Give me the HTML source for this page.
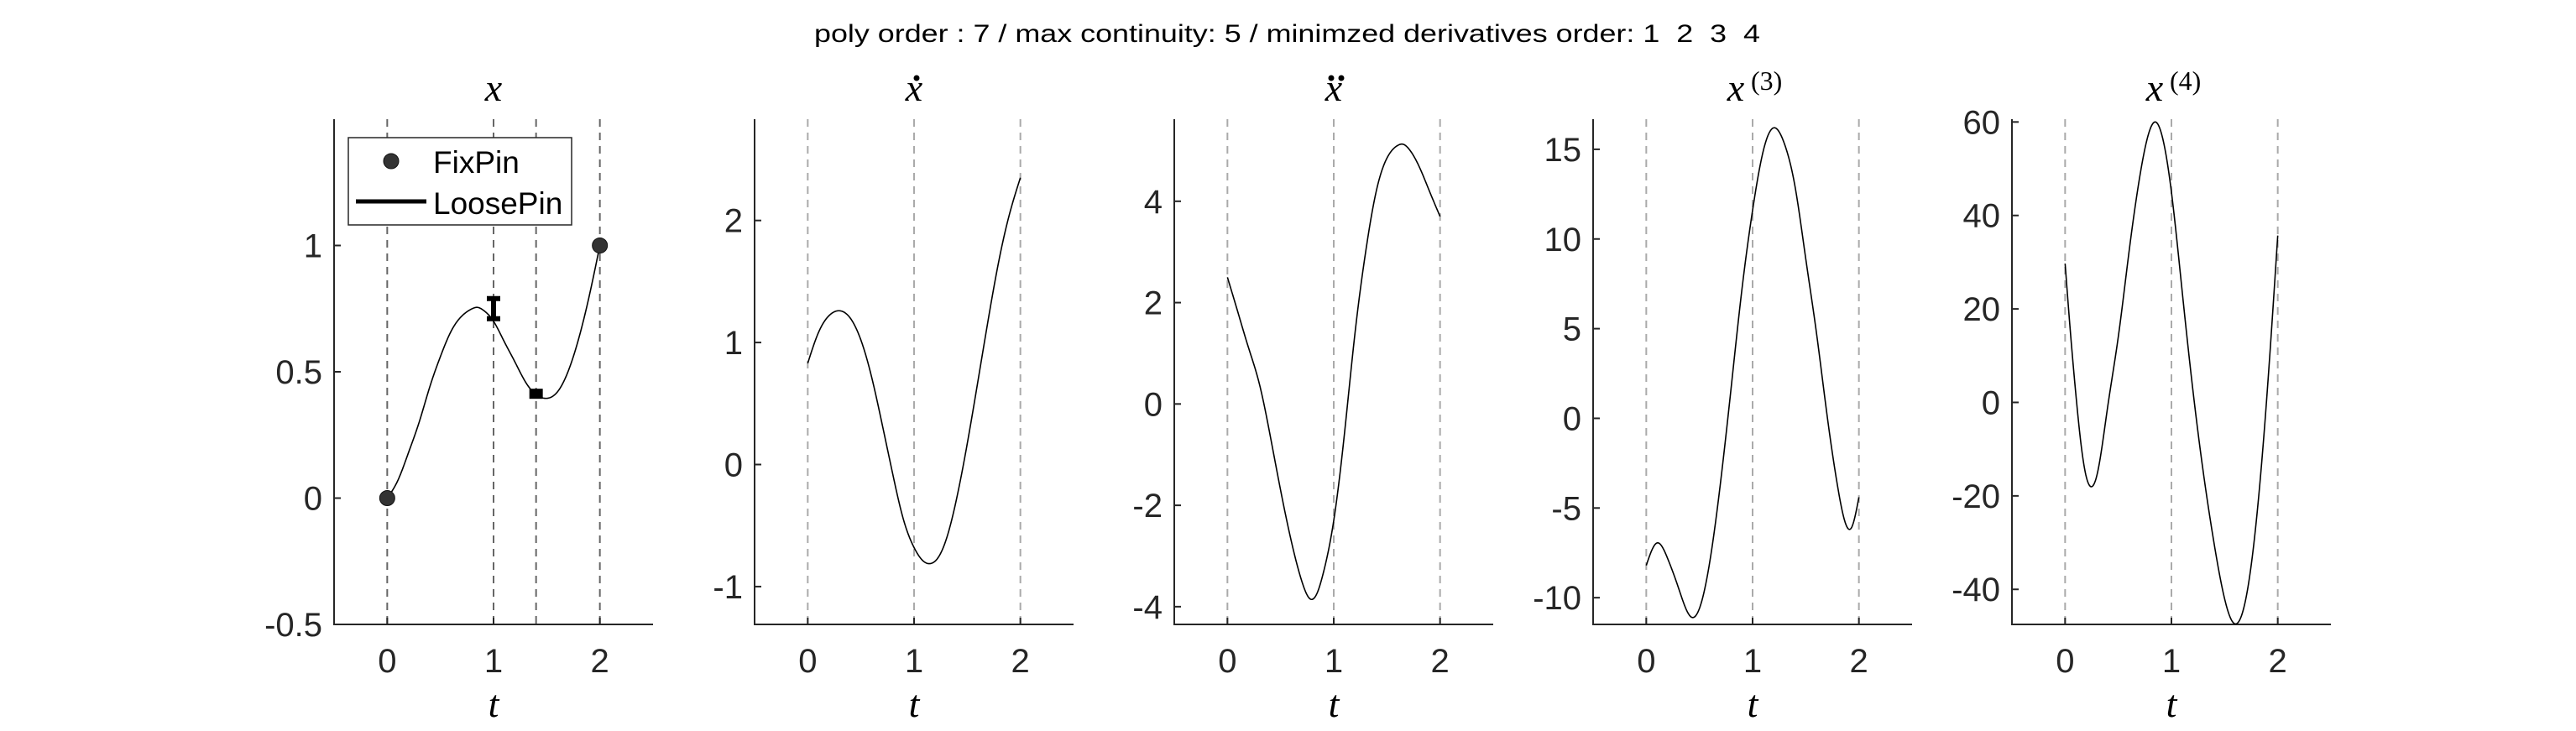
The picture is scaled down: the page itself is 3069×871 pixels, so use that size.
<!DOCTYPE html>
<html><head><meta charset="utf-8">
<style>
html,body{margin:0;padding:0;background:#fff;}
svg{display:block;}
.tick{font-family:"Liberation Sans",sans-serif;font-size:40px;fill:#262626;}
.ttl{font-family:"Liberation Serif",serif;font-style:italic;font-size:46px;fill:#000;}
</style></head>
<body>
<svg id="fig" width="3069" height="871" viewBox="0 0 3069 871" xmlns="http://www.w3.org/2000/svg">
<text x="970" y="50" font-family="Liberation Sans, sans-serif" font-size="30" textLength="1127" lengthAdjust="spacingAndGlyphs" xml:space="preserve" style="white-space:pre">poly order : 7 / max continuity: 5 / minimzed derivatives order: 1  2  3  4</text>
</svg>
<script>
// ---- data ----
const xT = [0,0.1,0.2,0.3,0.4,0.5,0.6,0.7,0.8,0.85,0.9,1.0,1.1,1.2,1.3,1.4,1.5,1.6,1.7,1.8,1.9,2.0];
const xV = [0,0.07,0.18,0.3,0.44,0.56,0.66,0.72,0.75,0.755,0.745,0.70,0.62,0.54,0.46,0.41,0.395,0.42,0.5,0.63,0.8,1.0];
const dT = [0,0.1,0.2,0.3,0.4,0.5,0.6,0.7,0.8,0.9,1.0,1.1,1.16,1.2,1.3,1.4,1.5,1.6,1.7,1.8,1.9,2.0];
const dV = [0.83,1.08,1.22,1.26,1.2,1.02,0.72,0.33,-0.08,-0.45,-0.68,-0.8,-0.81,-0.79,-0.62,-0.28,0.17,0.68,1.2,1.68,2.06,2.35];
const ddT = [0,0.1,0.2,0.3,0.4,0.5,0.6,0.7,0.78,0.85,0.9,1.0,1.1,1.2,1.3,1.4,1.5,1.6,1.66,1.7,1.8,1.9,2.0];
const ddV = [2.5,1.8,1.1,0.4,-0.6,-1.7,-2.7,-3.5,-3.85,-3.7,-3.35,-2.3,-0.6,1.4,3.0,4.2,4.85,5.1,5.12,5.05,4.7,4.2,3.7];
const jT = [0,0.1,0.2,0.3,0.43,0.5,0.6,0.7,0.8,0.9,1.0,1.1,1.2,1.3,1.4,1.5,1.6,1.7,1.8,1.93,2.0];
const jV = [-8.2,-6.95,-7.8,-9.4,-11.1,-10.6,-7.9,-3.5,1.8,7.2,11.6,14.9,16.2,15.3,12.9,8.9,4.8,0.2,-3.8,-6.1,-4.4];
const sT = [0,0.05,0.1,0.15,0.2,0.24,0.3,0.4,0.5,0.6,0.7,0.8,0.85,0.9,1.0,1.1,1.2,1.3,1.4,1.5,1.59,1.7,1.8,1.9,2.0];
const sV = [29.7,15,2,-9,-16,-18,-15.5,-1,14,32,48,58.5,60,58,45,24,3,-15,-30,-42,-47.3,-42,-25,2,35.7];
const xTicks = [0,1,2];
const yTicks1 = [-0.5,0,0.5,1];
const yTicks2 = [-1,0,1,2];
const yTicks3 = [-4,-2,0,2,4];
const yTicks4 = [-10,-5,0,5,10,15];
const yTicks5 = [-40,-20,0,20,40,60];
const fixT = [0,2];
const fixV = [0,1];
const errT = [1];
const errLo = [0.70];
const errHi = [0.80];
const sqT = [1.4];
const sqV = [0.413];
const vlines1 = [0,1,1.4,2];
const vlines = [0,1,2];

const NS='http://www.w3.org/2000/svg';
const fig=document.getElementById('fig');
function mk(tag,attrs,parent){const e=document.createElementNS(NS,tag);for(const k in attrs)e.setAttribute(k,attrs[k]);(parent||fig).appendChild(e);return e;}

// natural cubic spline through data, sampled finely
function spline(T,V){
  const n=T.length, h=[], a=[], l=[1], mu=[0], z=[0], c=new Array(n).fill(0), b=[], d=[];
  for(let i=0;i<n-1;i++)h.push(T[i+1]-T[i]);
  for(let i=1;i<n-1;i++)a[i]=3/h[i]*(V[i+1]-V[i])-3/h[i-1]*(V[i]-V[i-1]);
  for(let i=1;i<n-1;i++){l[i]=2*(T[i+1]-T[i-1])-h[i-1]*mu[i-1];mu[i]=h[i]/l[i];z[i]=(a[i]-h[i-1]*z[i-1])/l[i];}
  l[n-1]=1;z[n-1]=0;
  for(let j=n-2;j>=0;j--){c[j]=z[j]-mu[j]*c[j+1];b[j]=(V[j+1]-V[j])/h[j]-h[j]*(c[j+1]+2*c[j])/3;d[j]=(c[j+1]-c[j])/(3*h[j]);}
  const out=[];
  for(let j=0;j<n-1;j++){
    const steps=Math.max(4,Math.round(h[j]*200));
    for(let s=0;s<steps;s++){const dt=h[j]*s/steps;out.push([T[j]+dt,V[j]+b[j]*dt+c[j]*dt*dt+d[j]*dt*dt*dt]);}
  }
  out.push([T[n-1],V[n-1]]);
  return out;
}

const panels=[
 {left:398,sup:'',dots:0,ymin:-0.5,ymax:1.5,ticks:yTicks1,T:xT,V:xV,vl:vlines1,vc:'#666'},
 {left:899,sup:'',dots:1,ymin:-1.31,ymax:2.83,ticks:yTicks2,T:dT,V:dV,vl:vlines,vc:'#aaa'},
 {left:1399,sup:'',dots:2,ymin:-4.35,ymax:5.62,ticks:yTicks3,T:ddT,V:ddV,vl:vlines,vc:'#aaa'},
 {left:1898,sup:'(3)',dots:0,ymin:-11.49,ymax:16.68,ticks:yTicks4,T:jT,V:jV,vl:vlines,vc:'#aaa'},
 {left:2397,sup:'(4)',dots:0,ymin:-47.5,ymax:60.6,ticks:yTicks5,T:sT,V:sV,vl:vlines,vc:'#aaa'}
];
const W=380, TOP=142, BOT=744;
panels.forEach((p,pi)=>{
  const g=mk('g',{});
  
  
  const sx=t=>p.left+(t+0.5)/3*W;
  const sy=v=>BOT-(v-p.ymin)/(p.ymax-p.ymin)*(BOT-TOP);
  p.vl.forEach(t=>{
    const l=mk('line',{x1:sx(t),x2:sx(t),y1:TOP,y2:BOT,stroke:p.vc,'stroke-width':2,'stroke-dasharray':'9,7'},g);
    
    
  });
  const ax=mk('path',{d:`M${p.left},${TOP} V${BOT} H${p.left+W}`,fill:'none',stroke:'#262626','stroke-width':2},g);
  
  
  p.ticks.forEach(v=>{
    mk('line',{x1:p.left,x2:p.left+8,y1:sy(v),y2:sy(v),stroke:'#262626','stroke-width':2},g);
    const tx=mk('text',{x:p.left-14,y:sy(v)+14,'text-anchor':'end',class:'tick'},g);
    tx.textContent=String(v);
    
    
  });
  xTicks.forEach(t=>{
    mk('line',{x1:sx(t),x2:sx(t),y1:BOT,y2:BOT-8,stroke:'#262626','stroke-width':2},g);
    const tx=mk('text',{x:sx(t),y:801,'text-anchor':'middle',class:'tick'},g);
    tx.textContent=String(t);
    
    
  });
  const xl=mk('text',{x:p.left+W/2,y:854,'text-anchor':'middle',class:'ttl'},g);
  xl.textContent='t';
  
  
  const tt=mk('text',{x:p.left+W/2-(p.sup?20:0),y:120,'text-anchor':'middle',class:'ttl'},g);
  tt.textContent='x';
  
  
  if(p.sup){
    const s=mk('text',{x:p.left+W/2-2,y:107,'font-family':'Liberation Serif, serif','font-size':32},g);
    s.textContent=p.sup;
    
    
  }
  const cx=p.left+W/2+3;
  if(p.dots===1){mk('circle',{cx:cx,cy:93,r:3.5,fill:'#000'},g);}
  if(p.dots===2){mk('circle',{cx:cx-6,cy:93,r:3.5,fill:'#000'},g);mk('circle',{cx:cx+6,cy:93,r:3.5,fill:'#000'},g);}
  const pts=spline(p.T,p.V).map(q=>sx(q[0]).toFixed(2)+','+sy(q[1]).toFixed(2));
  const c=mk('polyline',{points:pts.join(' '),fill:'none',stroke:'#000','stroke-width':1.6},g);
  
  
  if(pi===0){
    errT.forEach((t,i)=>{
      const x=sx(t),y1=sy(errHi[i]),y2=sy(errLo[i]);
      const e=mk('path',{d:`M${x},${y1} V${y2} M${x-8},${y1+3} H${x+8} M${x-8},${y2-3} H${x+8}`,stroke:'#000','stroke-width':6,fill:'none'},g);
      
      
    });
    sqT.forEach((t,i)=>{
      const r=mk('rect',{x:sx(t)-8,y:sy(sqV[i])-6,width:16,height:12,fill:'#000'},g);
      
      
    });
    fixT.forEach((t,i)=>{
      const m=mk('circle',{cx:sx(t),cy:sy(fixV[i]),r:9,fill:'#333',stroke:'#111','stroke-width':1},g);
      
      
    });
    const lg=mk('g',{},g);
    
    
    mk('rect',{x:415,y:164,width:266,height:104,fill:'#fff',stroke:'#262626','stroke-width':1.5},lg);
    mk('circle',{cx:466,cy:192,r:9,fill:'#333',stroke:'#111','stroke-width':1},lg);
    mk('line',{x1:424,x2:508,y1:240,y2:240,stroke:'#000','stroke-width':5},lg);
    const l1=mk('text',{x:516,y:206,'font-family':'Liberation Sans, sans-serif','font-size':37},lg);
    l1.textContent='FixPin';
    
    
    const l2=mk('text',{x:516,y:255,'font-family':'Liberation Sans, sans-serif','font-size':37},lg);
    l2.textContent='LoosePin';
    
    
  }
});
</script>
</body></html>
